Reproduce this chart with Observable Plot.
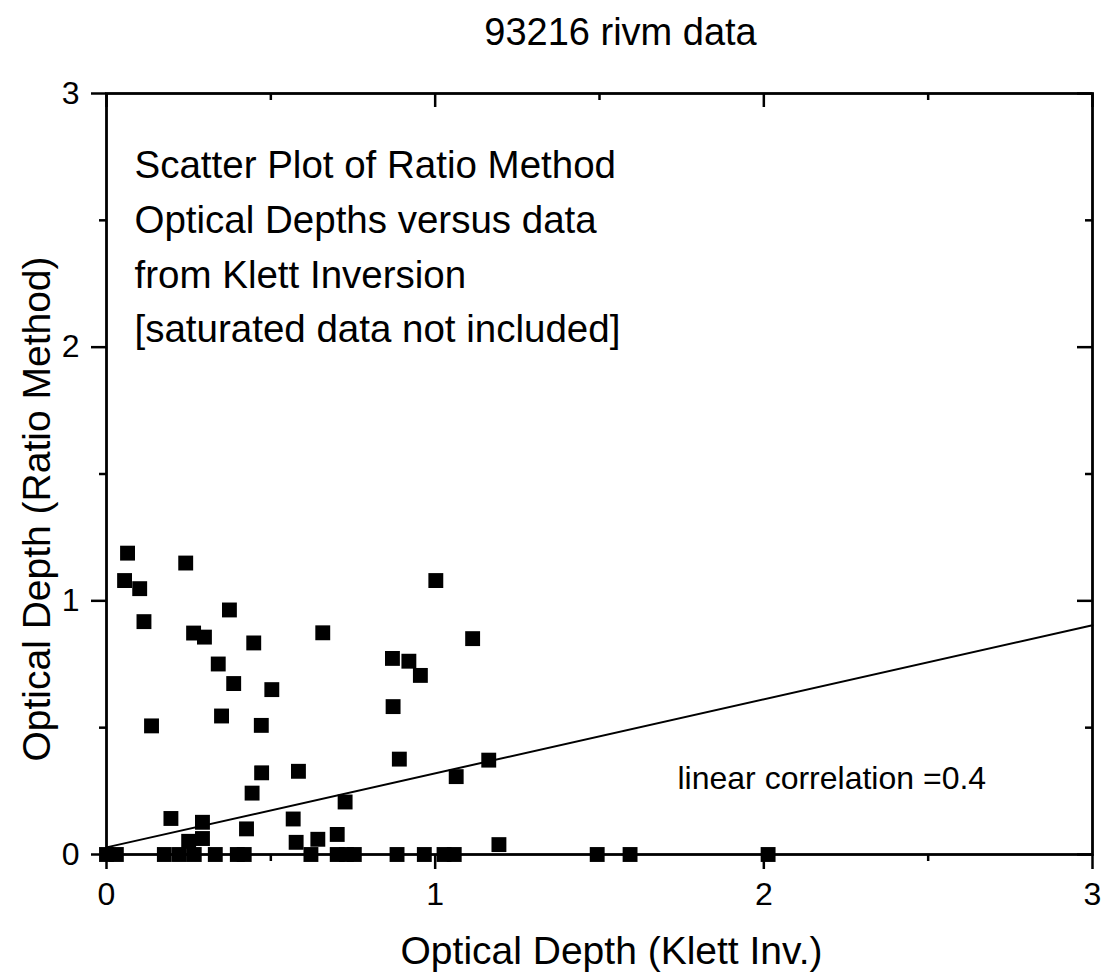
<!DOCTYPE html>
<html>
<head>
<meta charset="utf-8">
<script src="https://cdn.jsdelivr.net/npm/d3@7"></script>
<script src="https://cdn.jsdelivr.net/npm/@observablehq/plot@0.6"></script>
<style>
  body { margin: 0; background: #fff; }
</style>
</head>
<body>
<div id="chart"></div>
<script>
// Optical depth from the Klett inversion (x) and from the ratio method (y)
const klett = [
  0.064, 0.241, 0.055, 0.101, 0.114, 0.374, 0.265, 0.298, 0.658, 0.448,
  0.340, 0.387, 0.503, 0.137, 0.350, 0.471, 0.472, 0.584, 0.443, 0.196,
  1.002, 1.114, 0.870, 0.920, 0.955, 0.872, 0.891, 1.163, 1.064, 0.726,
  0.568, 0.292, 0.292, 0.250, 0.426, 0.577, 0.643, 0.702, 1.194,
  0.000, 0.030, 0.176, 0.222, 0.267, 0.331, 0.398, 0.419, 0.622, 0.702,
  0.730, 0.754, 0.884, 0.967, 1.027, 1.058, 1.493, 1.593, 2.013
];
const ratio = [
  1.188, 1.149, 1.080, 1.048, 0.918, 0.964, 0.873, 0.857, 0.874, 0.834,
  0.751, 0.674, 0.650, 0.507, 0.546, 0.509, 0.322, 0.328, 0.242, 0.142,
  1.080, 0.851, 0.773, 0.762, 0.706, 0.583, 0.376, 0.372, 0.307, 0.207,
  0.140, 0.127, 0.063, 0.052, 0.101, 0.048, 0.060, 0.079, 0.039,
  0, 0, 0, 0, 0, 0, 0, 0, 0, 0,
  0, 0, 0, 0, 0, 0, 0, 0, 0
];

// Least-squares line through the points
const fitIntercept = 0.028;
const fitSlope = 0.292;

// Axis ticks
const majorTicks = [0, 1, 2, 3];
const minorTicks = [0.5, 1.5, 2.5];

// Texts
const titleText = "93216 rivm data";
const noteLines = [
  "Scatter Plot of Ratio Method",
  "Optical Depths versus data",
  "from Klett Inversion",
  "[saturated data not included]"
];
const corrLabel = "linear correlation =0.4";
const xLabel = "Optical Depth (Klett Inv.)";
const yLabel = "Optical Depth (Ratio Method)";

const points = klett.map((x, i) => ({x, y: ratio[i]}));
const [x0, x1] = d3.extent(majorTicks);
const fitLine = [x0, x1].map(x => ({x, y: fitIntercept + fitSlope * x}));

const W = 1110, H = 978;
const mL = 106, mR = 18, mT = 93, mB = 124;
const plotW = W - mL - mR, plotH = H - mT - mB;
const font = "'Liberation Sans', Arial, Helvetica, sans-serif";
const axisStroke = 2.5;

const chart = Plot.plot({
  width: W,
  height: H,
  marginLeft: mL,
  marginRight: mR,
  marginTop: mT,
  marginBottom: mB,
  style: {fontFamily: font, background: "#fff", color: "#000", overflow: "visible"},
  x: {domain: [x0, x1]},
  y: {domain: [x0, x1]},
  marks: [
    // labelled outer axes
    Plot.axisX({anchor: "bottom", ticks: majorTicks, tickSize: 15, tickPadding: 13,
      fontSize: 32, strokeWidth: axisStroke, label: null, tickFormat: d => String(d)}),
    Plot.axisY({anchor: "left", ticks: majorTicks, tickSize: 15, tickPadding: 12,
      fontSize: 32, strokeWidth: axisStroke, label: null, tickFormat: d => String(d)}),
    // outer minor ticks
    Plot.tickX(minorTicks, {x: d => d, insetTop: plotH, insetBottom: -7, strokeWidth: axisStroke}),
    Plot.tickY(minorTicks, {y: d => d, insetRight: plotW, insetLeft: -7, strokeWidth: axisStroke}),
    // inner ticks on the top and right edges
    Plot.tickX(majorTicks, {x: d => d, insetBottom: plotH - 14, strokeWidth: axisStroke}),
    Plot.tickX(minorTicks, {x: d => d, insetBottom: plotH - 7, strokeWidth: axisStroke}),
    Plot.tickY(majorTicks, {y: d => d, insetLeft: plotW - 15, strokeWidth: axisStroke}),
    Plot.tickY(minorTicks, {y: d => d, insetLeft: plotW - 7, strokeWidth: axisStroke}),
    Plot.frame({stroke: "#000", strokeWidth: 2.8}),
    // regression line
    Plot.line(fitLine, {x: "x", y: "y", stroke: "#000", strokeWidth: 2}),
    // data points
    Plot.dot(points, {x: "x", y: "y", symbol: "square", r: 8.4, fill: "#000", stroke: "none"}),
    // title and annotations
    Plot.text([titleText], {text: d => d, frameAnchor: "top", lineAnchor: "bottom",
      fontSize: 38, dx: 21, dy: -49}),
    Plot.text([noteLines.join("\n")], {text: d => d, frameAnchor: "top-left", textAnchor: "start",
      lineAnchor: "top", lineHeight: 54 / 38, fontSize: 38.5, dx: 28, dy: 46}),
    Plot.text([corrLabel], {text: d => d, frameAnchor: "bottom-left", textAnchor: "start",
      lineAnchor: "bottom", fontSize: 32, dx: 571, dy: -66}),
    Plot.text([xLabel], {text: d => d, frameAnchor: "bottom", lineAnchor: "bottom",
      fontSize: 39, dx: 12, dy: 109}),
    Plot.text([yLabel], {text: d => d, frameAnchor: "left", textAnchor: "middle", rotate: -90,
      lineAnchor: "bottom", fontSize: 39, dx: -57, dy: 35})
  ]
});

document.getElementById("chart").appendChild(chart);
</script>
</body>
</html>
